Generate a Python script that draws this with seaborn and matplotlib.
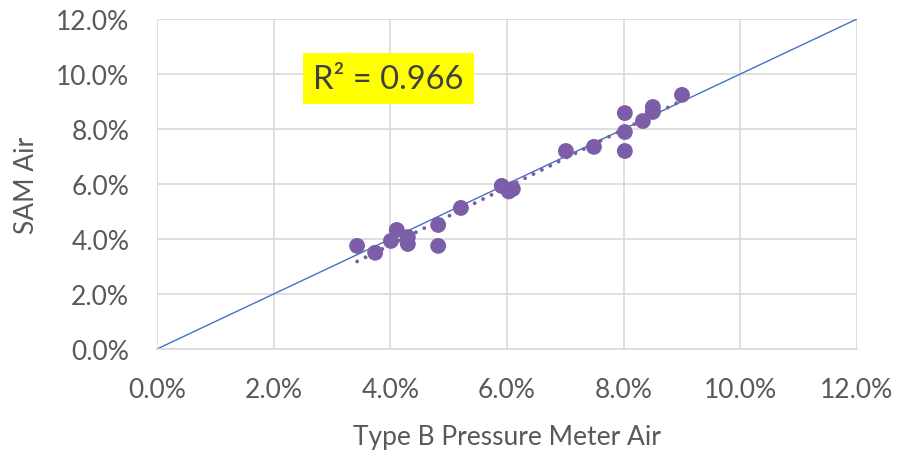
import matplotlib
matplotlib.use("Agg")
import matplotlib.pyplot as plt
import seaborn as sns
import numpy as np
import pandas as pd
from matplotlib.ticker import FuncFormatter, MultipleLocator

type_b = [3.43, 3.74, 4.01, 4.11, 4.30, 4.30, 4.82, 4.82, 5.21, 5.91, 6.03, 6.10,
          7.01, 7.49, 8.02, 8.02, 8.02, 8.33, 8.50, 8.50, 9.00]
sam = [3.75, 3.50, 3.93, 4.33, 4.07, 3.82, 4.51, 3.75, 5.13, 5.93, 5.73, 5.82,
       7.20, 7.35, 8.58, 7.89, 7.20, 8.29, 8.80, 8.62, 9.24]
r2_text = "R² = 0.966"

df = pd.DataFrame({"Type B": np.array(type_b) / 100, "SAM": np.array(sam) / 100})

sns.set_theme(style="white")
plt.rcParams['font.family'] = ['Lato', 'DejaVu Sans']

fig = plt.figure(figsize=(8.99, 4.56), dpi=100)
ax = fig.add_axes([157/899, 1 - 350/456, 700/899, 330/456])

ax.plot([0, 0.12], [0, 0.12], color="#4472C4", lw=1.0, zorder=2)
sns.regplot(data=df, x="Type B", y="SAM", ci=None, ax=ax, truncate=True,
            scatter_kws=dict(s=130, color="#7B5EA7", edgecolor="none", alpha=1, zorder=3),
            line_kws=dict(color="#7B5EA7", lw=2.8, linestyle=(0, (0.01, 2.4)),
                          dash_capstyle="round", zorder=3))

ax.set_xlim(0, 0.12)
ax.set_ylim(0, 0.12)
ax.xaxis.set_major_locator(MultipleLocator(0.02))
ax.yaxis.set_major_locator(MultipleLocator(0.02))
fmt = FuncFormatter(lambda v, p: f"{v*100:.1f}%")
ax.xaxis.set_major_formatter(fmt)
ax.yaxis.set_major_formatter(fmt)
ax.grid(True, color="#D9D9D9", lw=1.2)
ax.set_axisbelow(True)
for s in ["top", "right", "left"]:
    ax.spines[s].set_visible(False)
ax.spines["bottom"].set_color("#D9D9D9")
ax.spines["bottom"].set_linewidth(1.2)
ax.tick_params(axis="y", labelsize=19, colors="#595959", length=0, pad=20)
ax.tick_params(axis="x", labelsize=19, colors="#595959", length=0, pad=20)
ax.set_xlabel("Type B Pressure Meter Air", fontsize=19, color="#595959", labelpad=16)
ax.set_ylabel("SAM Air", fontsize=19, color="#595959", labelpad=12)

ax.text(0.0268, 0.0983, r2_text, fontsize=23.5, color="#404040", va="center", ha="left",
        bbox=dict(facecolor="#FFFF00", edgecolor="none", pad=7.5), zorder=5)

fig.savefig("out.png", dpi=100)
